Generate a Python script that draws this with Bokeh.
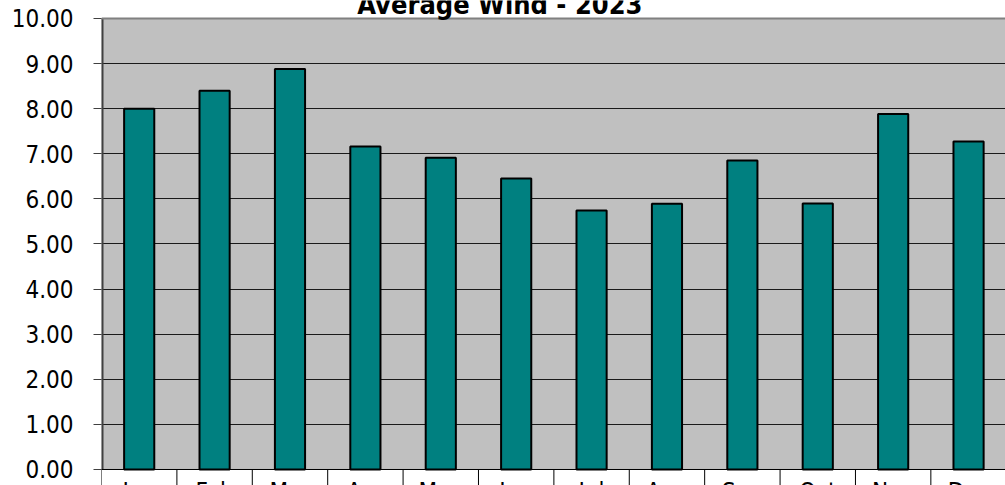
from bokeh.plotting import figure
from bokeh.models import Range1d, FixedTicker, NumeralTickFormatter, BoxAnnotation, Span, Label
from bokeh.core.properties import value
from bokeh.embed import file_html
from bokeh.resources import INLINE

# ---- data ----
months = ["Jan", "Feb", "Mar", "Apr", "May", "Jun", "Jul", "Aug", "Sep", "Oct", "Nov", "Dec"]
wind = [8.00, 8.40, 8.88, 7.16, 6.91, 6.45, 5.74, 5.89, 6.85, 5.90, 7.88, 7.27]
y_ticks = [0, 1, 2, 3, 4, 5, 6, 7, 8, 9, 10]
title_text = "Average Wind - 2023"

centers = [i + 0.5 for i in range(len(months))]
boundaries = list(range(len(months) + 1))

FONT = "DejaVu Sans Condensed"
y_min = -0.355
y_top = 10
y_max = 10.399

p = figure(width=1005, height=485, x_range=Range1d(0, 11.99), y_range=Range1d(y_min, y_max),
           x_axis_location=None, output_backend="svg", toolbar_location=None,
           min_border_left=101, min_border_right=0, min_border_top=0, min_border_bottom=0)
p.background_fill_color = "white"
p.border_fill_color = "white"
p.outline_line_color = None
p.xgrid.visible = False

# gray plot area
p.add_layout(BoxAnnotation(bottom=0, top=y_top, fill_color="#C0C0C0", fill_alpha=1.0,
                           line_color=None, level="image"))

# y axis (line drawn separately so it stops at the top of the plot area)
p.yaxis.ticker = FixedTicker(ticks=y_ticks)
p.yaxis.formatter = NumeralTickFormatter(format="0.00")
p.yaxis.major_tick_out = 8
p.yaxis.major_tick_in = 0
p.yaxis.minor_tick_line_color = None
p.yaxis.axis_line_color = None
p.yaxis.major_tick_line_color = "#404040"
p.yaxis.major_tick_line_width = 1
p.yaxis.major_label_text_font = FONT
p.yaxis.major_label_text_font_size = "24px"
p.yaxis.major_label_text_color = "black"
p.yaxis.major_label_standoff = 20

p.ygrid.ticker = FixedTicker(ticks=y_ticks)
p.ygrid.grid_line_color = "#1a1a1a"
p.ygrid.grid_line_width = 1

# category separators below the axis
p.segment(x0=boundaries, y0=[0] * len(boundaries), x1=boundaries, y1=[y_min] * len(boundaries),
          line_color="black", line_width=1)
# left edge of plot area
p.segment(x0=[0], y0=[0], x1=[0], y1=[y_top], line_color="#404040", line_width=4)

# bars
p.vbar(x=centers, top=wind, bottom=0, width=0.4, fill_color="#008080",
       line_color="black", line_width=2)

# axis lines
p.add_layout(Span(location=0, dimension="width", line_color="black", line_width=1))
p.add_layout(Span(location=y_top, dimension="width", line_color="#808080", line_width=2))

# month labels (cut off by page bottom as in reference)
p.text(x=centers, y=[0] * len(centers), text=months, text_align="center", text_baseline="top",
       y_offset=9, text_font=value(FONT), text_font_size="24px", text_color="black")

# title
p.add_layout(Label(x=6, y=y_top, x_offset=-54, y_offset=14, text=title_text,
                   text_font=FONT, text_font_style="bold", text_font_size="27px",
                   text_align="center", text_baseline="alphabetic", text_color="black"))

open("out.html", "w").write(file_html(p, INLINE))
